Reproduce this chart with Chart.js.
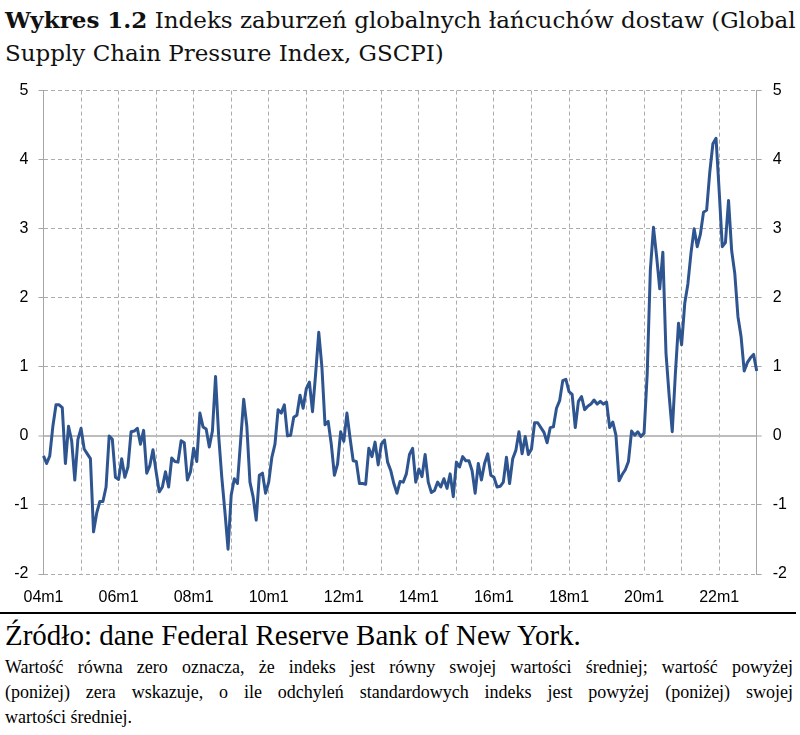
<!DOCTYPE html>
<html><head><meta charset="utf-8">
<script src="https://cdn.jsdelivr.net/npm/chart.js@4.4.0/dist/chart.umd.min.js"></script>
<style>
html,body{margin:0;padding:0;background:#fff;}
body{width:800px;height:735px;position:relative;overflow:hidden;}
#title{position:absolute;left:5px;top:3px;font-family:'DejaVu Serif',serif;font-size:23px;line-height:33px;color:#111;white-space:nowrap;}
#wrap{position:absolute;left:0;top:70px;width:800px;height:540px;}
#rule{position:absolute;left:0;top:612px;width:796px;height:2px;background:#000;}
#src{position:absolute;left:5px;top:618px;font-family:'Liberation Serif',serif;font-size:29px;line-height:34px;color:#000;white-space:nowrap;}
#note{position:absolute;left:5px;top:655px;width:788px;font-family:'Liberation Serif',serif;font-size:18px;line-height:25px;color:#000;}
#note .j{text-align:justify;text-align-last:justify;}
</style></head>
<body>
<div id="title"><b>Wykres 1.2</b> Indeks zaburzeń globalnych łańcuchów dostaw (Global<br>Supply Chain Pressure Index, GSCPI)</div>
<div id="wrap"><canvas id="c" width="800" height="540"></canvas></div>
<div id="rule"></div>
<div id="src">Źródło: dane Federal Reserve Bank of New York.</div>
<div id="note">
<div class="j">Wartość równa zero oznacza, że indeks jest równy swojej wartości średniej; wartość powyżej</div>
<div class="j">(poniżej) zera wskazuje, o ile odchyleń standardowych indeks jest powyżej (poniżej) swojej</div>
<div>wartości średniej.</div>
</div>
<script>
// Monthly categories 2004m1 .. 2023m1
const startYear = 2004;
const monthCount = 229;
const categories = [];
for (let k = 0; k < monthCount; k++) {
  const y = startYear + Math.floor(k / 12);
  const m = (k % 12) + 1;
  categories.push(String(y % 100).padStart(2, '0') + 'm' + m);
}
const tickLabels = ['04m1','06m1','08m1','10m1','12m1','14m1','16m1','18m1','20m1','22m1'];

// GSCPI values
const gscpi2004_2007 = [
  -0.29,-0.40,-0.29,0.14,0.45,0.45,0.41,-0.40,0.14,-0.07,-0.64,-0.05,
  0.11,-0.19,-0.26,-0.33,-1.39,-1.12,-0.95,-0.95,-0.74,0.00,-0.05,-0.60,
  -0.63,-0.33,-0.60,-0.45,0.06,0.07,0.11,-0.12,0.08,-0.54,-0.43,-0.20,
  -0.52,-0.81,-0.74,-0.52,-0.74,-0.32,-0.37,-0.38,-0.07,-0.10,-0.64,-0.52
];
const gscpi2008_2011 = [
  -0.18,-0.37,0.33,0.13,0.10,-0.16,0.07,0.86,0.00,-0.60,-1.10,-1.64,
  -0.86,-0.62,-0.69,-0.08,0.53,0.14,-0.67,-0.88,-1.22,-0.57,-0.54,-0.83,
  -0.67,-0.31,-0.12,0.38,0.33,0.45,0.00,0.01,0.27,0.30,0.59,0.40,
  0.68,0.78,0.35,0.90,1.50,1.00,0.16,0.21,-0.12,-0.57,-0.41,0.06
];
const gscpi2012_2015 = [
  -0.08,0.33,-0.03,-0.36,-0.37,-0.69,-0.69,-0.70,-0.18,-0.30,-0.09,-0.42,
  -0.12,-0.06,-0.38,-0.50,-0.69,-0.83,-0.66,-0.67,-0.55,-0.27,-0.18,-0.67,
  -0.48,-0.59,-0.27,-0.67,-0.82,-0.79,-0.67,-0.74,-0.62,-0.76,-0.55,-0.88,
  -0.38,-0.45,-0.30,-0.36,-0.36,-0.50,-0.83,-0.40,-0.64,-0.40,-0.26,-0.57
];
const gscpi2016_2019 = [
  -0.60,-0.74,-0.73,-0.67,-0.31,-0.69,-0.33,-0.21,0.06,-0.26,-0.01,-0.27,
  -0.19,0.19,0.19,0.12,0.05,-0.10,0.12,0.13,0.40,0.51,0.80,0.82,
  0.64,0.60,0.12,0.50,0.57,0.38,0.43,0.46,0.52,0.46,0.50,0.46,
  0.49,0.12,0.20,0.01,-0.65,-0.56,-0.49,-0.37,0.07,0.01,0.06,-0.01
];
const gscpi2020_2023 = [
  0.04,0.90,2.40,3.02,2.60,2.13,2.66,1.20,0.59,0.06,0.90,1.63,
  1.32,1.92,2.20,2.65,3.00,2.74,2.92,3.24,3.27,3.82,4.23,4.31,
  3.55,2.74,2.80,3.41,2.68,2.35,1.73,1.44,0.94,1.06,1.13,1.18,
  0.94
];
const gscpi = [].concat(gscpi2004_2007, gscpi2008_2011, gscpi2012_2015, gscpi2016_2019, gscpi2020_2023);

const yMin = -2, yMax = 5;
const gridColor = '#acacac';
const axisColor = '#a6a6a6';
const tickFont = {family: "'Liberation Sans', Arial, sans-serif", size: 16};

function yGridOpts(onArea) {
  return {
    drawOnChartArea: onArea,
    color: (c) => (c.tick && c.tick.value === 0) ? '#bdbdbd' : gridColor,
    lineWidth: (c) => (c.tick && c.tick.value === 0) ? 2 : 1,
    tickLength: 5,
    tickColor: axisColor,
    tickBorderDash: [],
    tickWidth: 1
  };
}

new Chart(document.getElementById('c'), {
  type: 'line',
  data: {
    labels: categories,
    datasets: [{
      data: gscpi,
      borderColor: '#2f5590',
      borderWidth: 3,
      pointRadius: 0,
      tension: 0,
      borderJoinStyle: 'round',
      fill: false
    }]
  },
  options: {
    responsive: false,
    animation: false,
    devicePixelRatio: 1,
    layout: {padding: {top: 15, left: 0, right: 0, bottom: 0}},
    plugins: {legend: {display: false}, tooltip: {enabled: false}},
    scales: {
      x: {
        type: 'category',
        offset: false,
        grid: {
          offset: false,
          drawTicks: false,
          color: (c) => (c.index !== undefined && c.index > 0 && c.index % 12 === 0) ? gridColor : 'rgba(0,0,0,0)',
          lineWidth: 1
        },
        border: {display: false, dash: [4, 3]},
        ticks: {
          autoSkip: false,
          maxRotation: 0,
          minRotation: 0,
          padding: 14,
          color: '#000',
          font: tickFont,
          callback: function(v, i) {
            const lab = categories[i];
            return tickLabels.includes(lab) ? lab : '';
          }
        },
        afterFit: (s) => { s.height = 36; }
      },
      y: {
        position: 'left',
        min: yMin, max: yMax,
        ticks: {stepSize: 1, padding: 10, color: '#000', font: tickFont},
        grid: yGridOpts(true),
        border: {
          display: true, color: axisColor, width: 1,
          dash: (c) => (c.tick && c.tick.value === 0) ? [] : [4, 3]
        },
        afterFit: (s) => { s.width = 43.5; }
      },
      y2: {
        position: 'right',
        min: yMin, max: yMax,
        ticks: {stepSize: 1, padding: 11, color: '#000', font: tickFont},
        grid: yGridOpts(false),
        border: {display: true, color: axisColor, width: 1},
        afterFit: (s) => { s.width = 43.3; }
      }
    }
  }
});
</script>
</body></html>
